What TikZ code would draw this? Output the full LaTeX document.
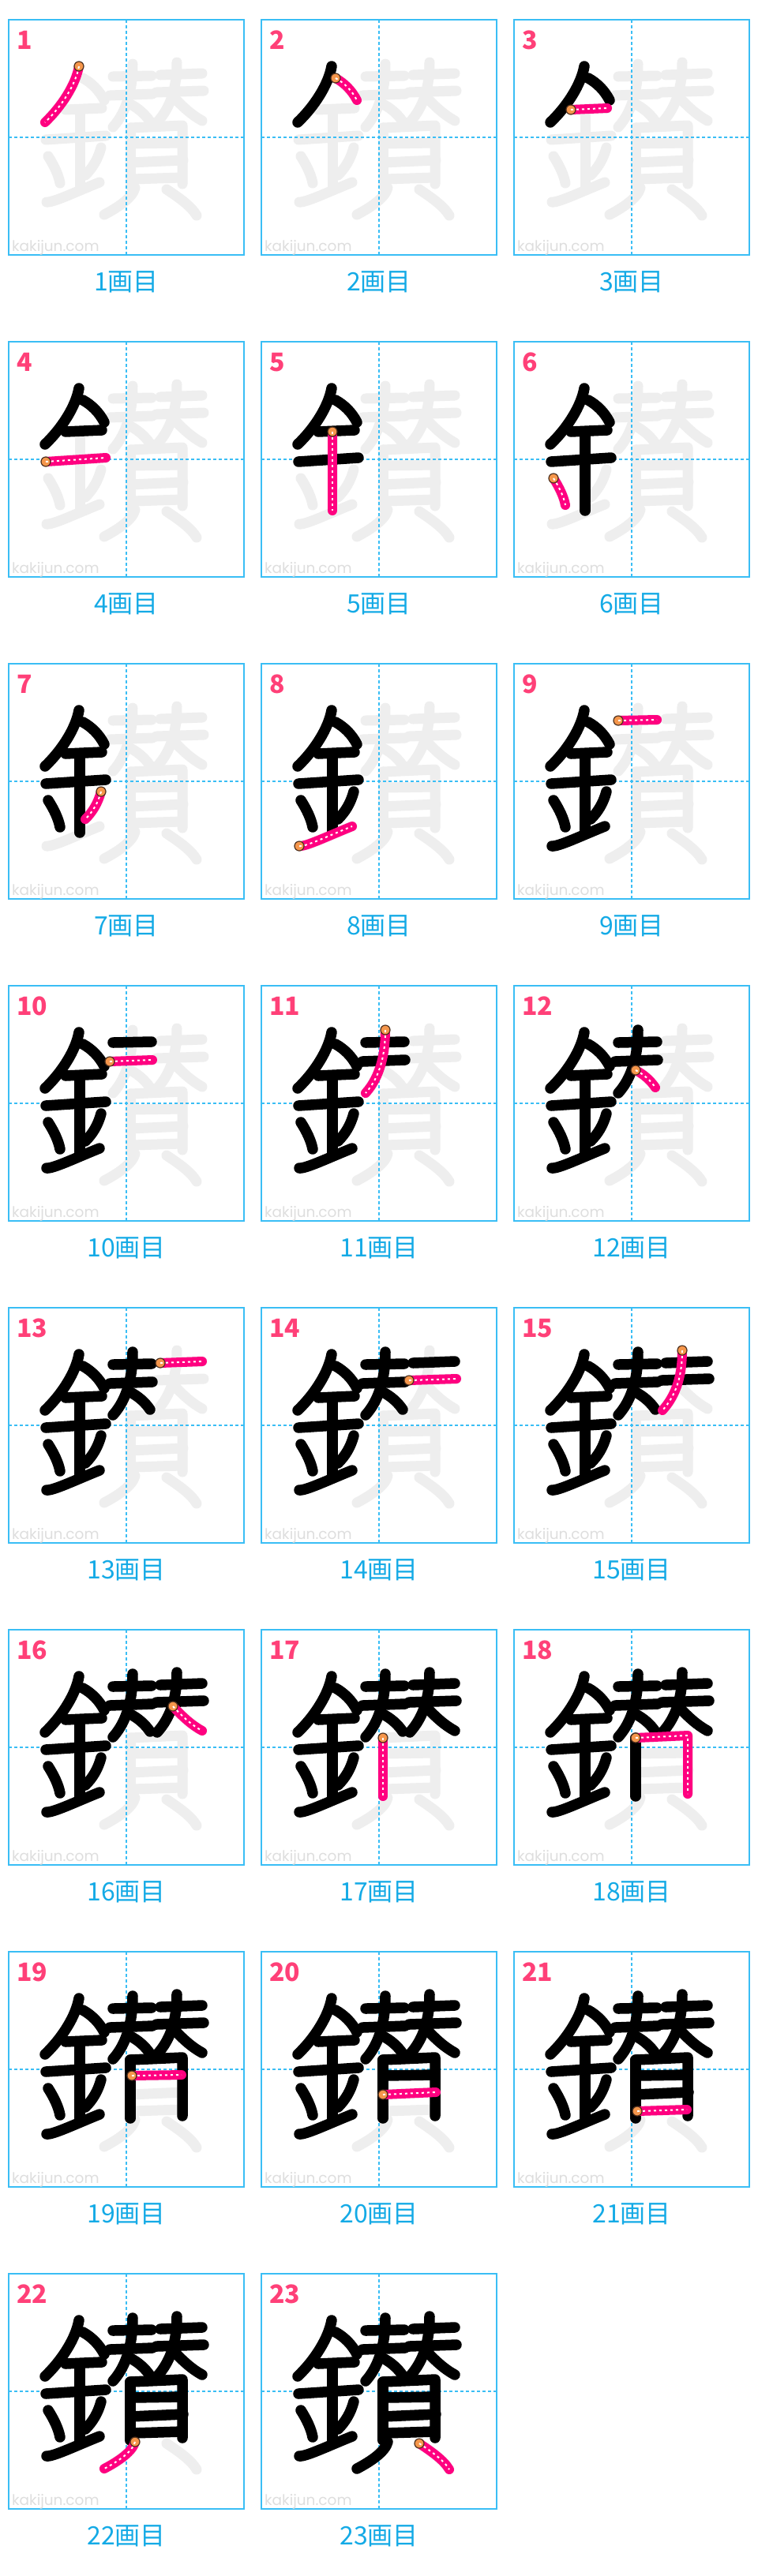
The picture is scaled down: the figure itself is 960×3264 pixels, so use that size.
\documentclass[tikz,border=0pt]{standalone}
\usepackage{fontspec}
\usepackage{tikz}
\newfontfamily\kjcjk{Noto Sans CJK JP}
\newfontfamily\kjmark{Poppins}

\definecolor{kjline}{RGB}{58,190,245}
\definecolor{kjtext}{RGB}{20,170,230}
\definecolor{kjnum}{RGB}{255,64,120}
\definecolor{kjred}{RGB}{255,0,128}
\definecolor{kjorange}{RGB}{245,150,75}
\definecolor{kjbrown}{RGB}{80,50,30}
\definecolor{kjgray}{RGB}{238,238,238}
\definecolor{kjmarkgray}{RGB}{222,222,222}

\tikzset{
  graystroke/.style={kjgray,line width=13pt,line cap=round,line join=round},
  blackstroke/.style={black,line width=13.5pt,line cap=round,line join=round},
  redstroke/.style={kjred,line width=12pt,line cap=round,line join=round},
  dotline/.style={white,line width=2pt,dash pattern=on 3pt off 4pt},
  guide/.style={kjline,line width=1.5pt,dash pattern=on 4pt off 3pt},
  panelbox/.style={kjline,line width=2pt}
}

% stroke number, start point, rest of the path (panel coordinates, y down)
\newcommand\kjdef[3]{%
  \expandafter\def\csname kjp#1\endcsname{#2}%
  \expandafter\def\csname kjs#1\endcsname{(#2) #3}}

\kjdef{1}{89,59}{.. controls (85,82) and (67,110) .. (46,130)}
\kjdef{2}{94,74}{.. controls (105,80) and (115,90) .. (121,102)}
\kjdef{3}{72,114}{-- (118,112)}
\kjdef{4}{47,152}{-- (123,147)}
\kjdef{5}{90,114}{-- (90,214)}
\kjdef{6}{50,173}{.. controls (57,184) and (63,196) .. (65,207)}
\kjdef{7}{117,162}{.. controls (113,177) and (106,188) .. (97,197)}
\kjdef{8}{48,231}{.. controls (56,232) and (85,218) .. (115,206)}
\kjdef{9}{132,72}{-- (181,71)}
\kjdef{10}{128,96}{-- (182,94)}
\kjdef{11}{157,56}{.. controls (157,85) and (151,115) .. (132,136)}
\kjdef{12}{154,107}{.. controls (164,112) and (173,120) .. (179,129)}
\kjdef{13}{192,70}{-- (245,68)}
\kjdef{14}{187,92}{-- (247,90)}
\kjdef{15}{213,54}{.. controls (213,85) and (206,110) .. (188,130)}
\kjdef{16}{208,97}{.. controls (220,110) and (232,121) .. (245,128)}
\kjdef{17}{154,137}{-- (154,211)}
\kjdef{18}{154,137}{-- (220,134) -- (220,208)}
\kjdef{19}{156,157}{-- (219,156)}
\kjdef{20}{154,181}{-- (221,178)}
\kjdef{21}{156,202}{-- (219,200)}
\kjdef{22}{160,213}{.. controls (157,225) and (140,237) .. (121,247)}
\kjdef{23}{200,215}{.. controls (215,225) and (231,236) .. (238,248)}

\begin{document}
\begin{tikzpicture}[x=1pt,y=-1pt]
\useasboundingbox (0,0) rectangle (960,3264);
\fill[white] (0,0) rectangle (960,3264);

\foreach \n in {1,...,23}{
  \pgfmathtruncatemacro\col{mod(\n-1,3)}
  \pgfmathtruncatemacro\row{div(\n-1,3)}
  \pgfmathsetmacro\px{11+320*\col}
  \pgfmathsetmacro\py{25+408*\row}
  \begin{scope}[shift={(\px,\py)}]
    % whole character in gray
    \foreach \k in {1,...,23}{
      \expandafter\let\expandafter\kjpath\csname kjs\k\endcsname
      \draw[graystroke] \kjpath;
    }
    \draw[guide] (149,0) -- (149,298);
    \draw[guide] (0,149) -- (298,149);
    \draw[panelbox] (0,0) rectangle (298,298);
    % strokes already written
    \foreach \k in {1,...,23}{
      \ifnum\k<\n
        \expandafter\let\expandafter\kjpath\csname kjs\k\endcsname
        \draw[blackstroke] \kjpath;
      \fi
    }
    % current stroke
    \expandafter\let\expandafter\kjpath\csname kjs\n\endcsname
    \expandafter\let\expandafter\kjstart\csname kjp\n\endcsname
    \draw[redstroke] \kjpath;
    \fill[kjorange,draw=kjbrown,line width=1.2pt] (\kjstart) circle[radius=6pt];
    \draw[dotline] \kjpath;

    \node[anchor=base west,text=kjnum,inner sep=0pt,
      font=\kjcjk\bfseries\fontsize{32}{32}\selectfont] (num\n) at (10,37) {\n};
    \node[anchor=base west,text=kjmarkgray,inner sep=0pt,
      font=\kjmark\fontsize{18.5}{18.5}\selectfont] (mark\n) at (4,293) {kakijun.com};
    \node[anchor=base,text=kjtext,inner sep=0pt,
      font=\kjcjk\fontsize{32}{32}\selectfont] (cap\n) at (149,343) {{\n}画目};
  \end{scope}
}
\end{tikzpicture}
\end{document}
